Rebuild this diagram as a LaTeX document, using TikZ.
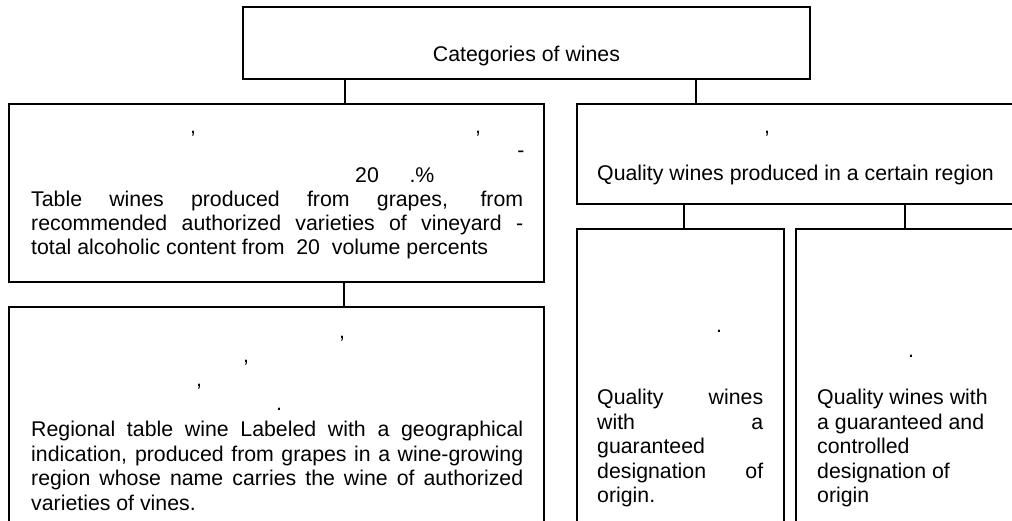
\documentclass[tikz,border=0pt]{standalone}
\usepackage{fontspec}
\setmainfont{Liberation Sans}
\begin{document}
\begin{tikzpicture}[x=1pt,y=-1pt,
  box/.style={draw=black,line width=1.5pt,inner sep=0pt,rectangle},
  txt/.style={inner sep=0pt,anchor=base west,font=\fontsize{21.3}{24.3}\selectfont},
  punct/.style={inner sep=0pt,anchor=base,font=\fontsize{21.3}{24.3}\selectfont},
  link/.style={line width=1.5pt}]
\useasboundingbox (0,0) rectangle (1012,521);
\clip (0,0) rectangle (1012,521);
% boxes
\node[box,minimum width=567pt,minimum height=72pt] (top) at (526.5,43) {};
\node[box,minimum width=535pt,minimum height=178pt] (tw) at (276.5,193) {};
\node[box,minimum width=445pt,minimum height=100pt] (qr) at (799.5,154) {};
\node[box,minimum width=535pt,minimum height=233pt] (rw) at (276.5,423.5) {};
\node[box,minimum width=207pt,minimum height=311pt] (qa) at (680.5,384.5) {};
\node[box,minimum width=226pt,minimum height=311pt] (qb) at (909,384.5) {};
% connector columns
\coordinate (k1) at (345,0);
\coordinate (k2) at (696,0);
\coordinate (k3) at (344,0);
\coordinate (k4) at (684,0);
\coordinate (k5) at (905,0);
\draw[link] (k1 |- top.south) -- (k1 |- tw.north);
\draw[link] (k2 |- top.south) -- (k2 |- qr.north);
\draw[link] (k3 |- tw.south) -- (k3 |- rw.north);
\draw[link] (k4 |- qr.south) -- (k4 |- qa.north);
\draw[link] (k5 |- qr.south) -- (k5 |- qb.north);
% top text
\node[punct] (t0) at (526.5,62) {Categories of wines};
% table wines box
\node[punct] (a1) at (193,134) {,};
\node[punct] (a2) at (478,134) {,};
\node[punct] (a3) at (521,158) {-};
\node[punct] (a4) at (367,183) {20};
\node[punct] (a5) at (422,183) {.\%};
\node[txt] (a6) at (31,207) {\makebox[492pt][s]{Table wines produced from grapes, from}};
\node[txt] (a7) at (31,231) {\makebox[492pt][s]{recommended authorized varieties of vineyard -}};
\node[txt] (a8) at (31,255) {total alcoholic content from\ \ 20\ \ volume percents};
% quality wines region box
\node[punct] (b1) at (767,134) {,};
\node[txt] (b2) at (597,181) {Quality wines produced in a certain region};
% regional table wine box
\node[punct] (c1) at (342,338) {,};
\node[punct] (c2) at (246,362) {,};
\node[punct] (c3) at (199,386) {,};
\node[punct] (c4) at (279,410) {.};
\node[txt] (c5) at (31,436) {\makebox[492pt][s]{Regional table wine Labeled with a geographical}};
\node[txt] (c6) at (31,461) {\makebox[492pt][s]{indication, produced from grapes in a wine-growing}};
\node[txt] (c7) at (31,485) {\makebox[492pt][s]{region whose name carries the wine of authorized}};
\node[txt] (c8) at (31,510) {varieties of vines.};
% quality A
\node[punct] (d0) at (719,333) {.};
\node[txt] (d1) at (597,404) {\makebox[166pt][s]{Quality wines}};
\node[txt] (d2) at (597,429) {\makebox[166pt][s]{with a}};
\node[txt] (d3) at (597,453) {guaranteed};
\node[txt] (d4) at (597,478) {\makebox[166pt][s]{designation of}};
\node[txt] (d5) at (597,502) {origin.};
% quality B
\node[punct] (e0) at (911,357) {.};
\node[txt] (e1) at (817,404) {Quality wines with};
\node[txt] (e2) at (817,429) {a guaranteed and};
\node[txt] (e3) at (817,453) {controlled};
\node[txt] (e4) at (817,478) {designation of};
\node[txt] (e5) at (817,502) {origin};
\end{tikzpicture}
\end{document}
